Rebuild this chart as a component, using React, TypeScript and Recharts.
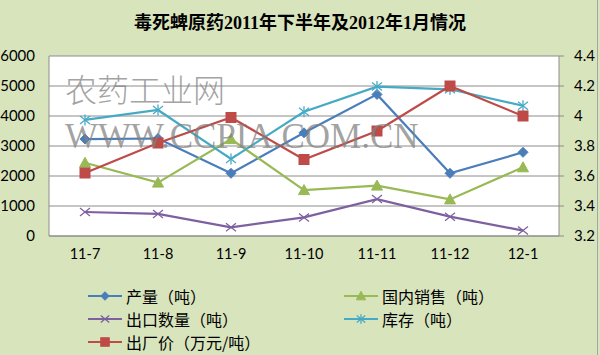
import React from 'react';
import { LineChart, Line, XAxis, YAxis, CartesianGrid, Legend } from 'recharts';

const categories = ['11-7', '11-8', '11-9', '11-10', '11-11', '11-12', '12-1'];
const production = [3230, 3250, 2090, 3440, 4720, 2090, 2790];
const domestic = [2440, 1780, 3230, 1530, 1680, 1220, 2290];
const exportQty = [800, 735, 290, 620, 1230, 645, 180];
const inventory = [3870, 4200, 2570, 4140, 4980, 4890, 4340];
const price = [3.62, 3.82, 3.99, 3.71, 3.9, 4.2, 4.0];

const leftTicks = [0, 1000, 2000, 3000, 4000, 5000, 6000];
const rightTicks = [3.2, 3.4, 3.6, 3.8, 4, 4.2, 4.4];

const seriesNames = {
  production: '产量（吨）',
  domestic: '国内销售（吨）',
  exportQty: '出口数量（吨）',
  inventory: '库存（吨）',
  price: '出厂价（万元/吨）',
};

const colors = {
  production: '#4A7EBB',
  domestic: '#98B954',
  exportQty: '#7D60A0',
  inventory: '#46AAC5',
  price: '#BE4B48',
};

const data = categories.map((c, i) => ({
  name: c,
  production: production[i],
  domestic: domestic[i],
  exportQty: exportQty[i],
  inventory: inventory[i],
  price: price[i],
}));

type MarkerKind = 'diamond' | 'triangle' | 'x' | 'star' | 'square';
const markerOf: Record<string, MarkerKind> = {
  production: 'diamond',
  domestic: 'triangle',
  exportQty: 'x',
  inventory: 'star',
  price: 'square',
};

function Marker({ kind, cx, cy, color, scale = 1 }: { kind: MarkerKind; cx: number; cy: number; color: string; scale?: number }) {
  const s = scale;
  switch (kind) {
    case 'diamond':
      return <path d={`M${cx},${cy - 5 * s}L${cx + 5 * s},${cy}L${cx},${cy + 5 * s}L${cx - 5 * s},${cy}Z`} fill={color} stroke={color} strokeWidth={1} />;
    case 'triangle':
      return <path d={`M${cx},${cy - 5.5 * s}L${cx + 5.5 * s},${cy + 4.5 * s}L${cx - 5.5 * s},${cy + 4.5 * s}Z`} fill={color} stroke={color} strokeWidth={1} />;
    case 'x':
      return (
        <g stroke={color} strokeWidth={1.3} fill="none">
          <line x1={cx - 5 * s} y1={cy - 4 * s} x2={cx + 5 * s} y2={cy + 4 * s} />
          <line x1={cx - 5 * s} y1={cy + 4 * s} x2={cx + 5 * s} y2={cy - 4 * s} />
        </g>
      );
    case 'star':
      return (
        <g stroke={color} strokeWidth={1.3} fill="none">
          <line x1={cx - 5 * s} y1={cy - 4 * s} x2={cx + 5 * s} y2={cy + 4 * s} />
          <line x1={cx - 5 * s} y1={cy + 4 * s} x2={cx + 5 * s} y2={cy - 4 * s} />
          <line x1={cx} y1={cy - 5.5 * s} x2={cx} y2={cy + 5.5 * s} />
        </g>
      );
    case 'square':
    default:
      return <rect x={cx - 5 * s} y={cy - 5 * s} width={10 * s} height={10 * s} fill={color} stroke={color} strokeWidth={1} />;
  }
}

const makeDot = (key: string) => (props: any) => {
  const { cx, cy, index } = props;
  if (cx == null || cy == null) return <g key={`${key}-${index}`} />;
  return (
    <g key={`${key}-${index}`}>
      <Marker kind={markerOf[key]} cx={cx} cy={cy} color={(colors as any)[key]} />
    </g>
  );
};

const legendPos: Record<string, { left: number; top: number }> = {
  production: { left: 88, top: 296 },
  domestic: { left: 344, top: 296 },
  exportQty: { left: 88, top: 319 },
  inventory: { left: 344, top: 319 },
  price: { left: 88, top: 342 },
};

const renderLegend = (props: any) => {
  const { payload } = props;
  return (
    <div style={{ position: 'relative', width: 0, height: 0, overflow: 'visible' }}>
      {(payload || []).map((entry: any) => {
        const key = entry.dataKey as string;
        const pos = legendPos[key];
        if (!pos) return null;
        return (
          <div
            key={key}
            style={{
              position: 'absolute',
              left: pos.left,
              top: pos.top - 11,
              height: 22,
              display: 'flex',
              alignItems: 'center',
              whiteSpace: 'nowrap',
            }}
          >
            <svg width={34} height={14} style={{ display: 'block' }}>
              <line x1={0} y1={7} x2={34} y2={7} stroke={entry.color} strokeWidth={2} />
              <Marker kind={markerOf[key]} cx={17} cy={7} color={entry.color} scale={0.85} />
            </svg>
            <span
              style={{
                marginLeft: 4,
                fontFamily: '"Noto Sans CJK SC", sans-serif',
                fontSize: 16,
                color: '#000',
                lineHeight: '22px',
              }}
            >
              {entry.value}
            </span>
          </div>
        );
      })}
    </div>
  );
};

const keys = ['production', 'domestic', 'exportQty', 'inventory', 'price'];

export default function App() {
  return (
    <div style={{ position: 'absolute', left: 0, top: 0, width: 600, height: 355, background: '#D8E4BC', overflow: 'hidden' }}>
      <div
        style={{
          position: 'absolute',
          left: 0,
          top: 11,
          width: 600,
          textAlign: 'center',
          fontFamily: '"Liberation Serif", "Noto Sans CJK SC", serif',
          fontWeight: 'bold',
          fontSize: 18,
          lineHeight: '24px',
          color: '#000',
        }}
      >
        毒死蜱原药2011年下半年及2012年1月情况
      </div>
      <div style={{ position: 'absolute', left: 0, top: 0 }}>
        <LineChart width={600} height={355} data={data} margin={{ top: 56, right: 0, bottom: 89, left: 0 }}>
          <CartesianGrid vertical={false} stroke="#8C8C8C" fill="#FFFFFF" yAxisId="left" />
          <XAxis
            dataKey="name"
            height={30}
            padding={{ left: 36, right: 36 }}
            axisLine={{ stroke: '#8C8C8C' }}
            tickLine={false}
            tickSize={6}
            tickMargin={7}
            tick={{ fontFamily: 'Lato, sans-serif', fontSize: 14.5, fill: '#000' }}
            interval={0}
          />
          <YAxis
            yAxisId="left"
            orientation="left"
            width={49}
            domain={[0, 6000]}
            ticks={leftTicks}
            axisLine={{ stroke: '#8C8C8C' }}
            tickLine={false}
            tickSize={6}
            tickMargin={8}
            tick={{ fontFamily: 'Lato, sans-serif', fontSize: 15, fill: '#000' }}
          />
          <YAxis
            yAxisId="right"
            orientation="right"
            width={41}
            domain={[3.2, 4.4]}
            ticks={rightTicks}
            axisLine={{ stroke: '#8C8C8C' }}
            tickLine={{ stroke: '#8C8C8C' }}
            tickSize={5}
            tickMargin={10}
            tick={{ fontFamily: 'Lato, sans-serif', fontSize: 15, fill: '#000' }}
          />
          {keys.map((k) => (
            <Line
              key={k}
              yAxisId={k === 'price' ? 'right' : 'left'}
              type="linear"
              dataKey={k}
              name={(seriesNames as any)[k]}
              stroke={(colors as any)[k]}
              strokeWidth={2.2}
              dot={makeDot(k)}
              activeDot={false}
              isAnimationActive={false}
            />
          ))}
          <Legend
            content={renderLegend}
            wrapperStyle={{ position: 'absolute', left: 0, top: 0, width: 0, height: 0, overflow: 'visible', pointerEvents: 'none' }}
          />
        </LineChart>
      </div>
      <svg width={600} height={355} style={{ position: 'absolute', left: 0, top: 0, pointerEvents: 'none' }}>
        <text x={65} y={102} fontFamily='"Noto Sans CJK SC", sans-serif' fontWeight={300} fontSize={32} fill="#808080" fillOpacity={0.72}>
          农药工业网
        </text>
        <text x={65} y={148} fontFamily='"Liberation Serif", serif' fontSize={35} fill="#808080" fillOpacity={0.72}>
          WWW.CCPIA.COM.CN
        </text>
        <line x1={597.5} y1={0} x2={597.5} y2={355} stroke="#A6A6A6" strokeWidth={1} />
      </svg>
    </div>
  );
}
